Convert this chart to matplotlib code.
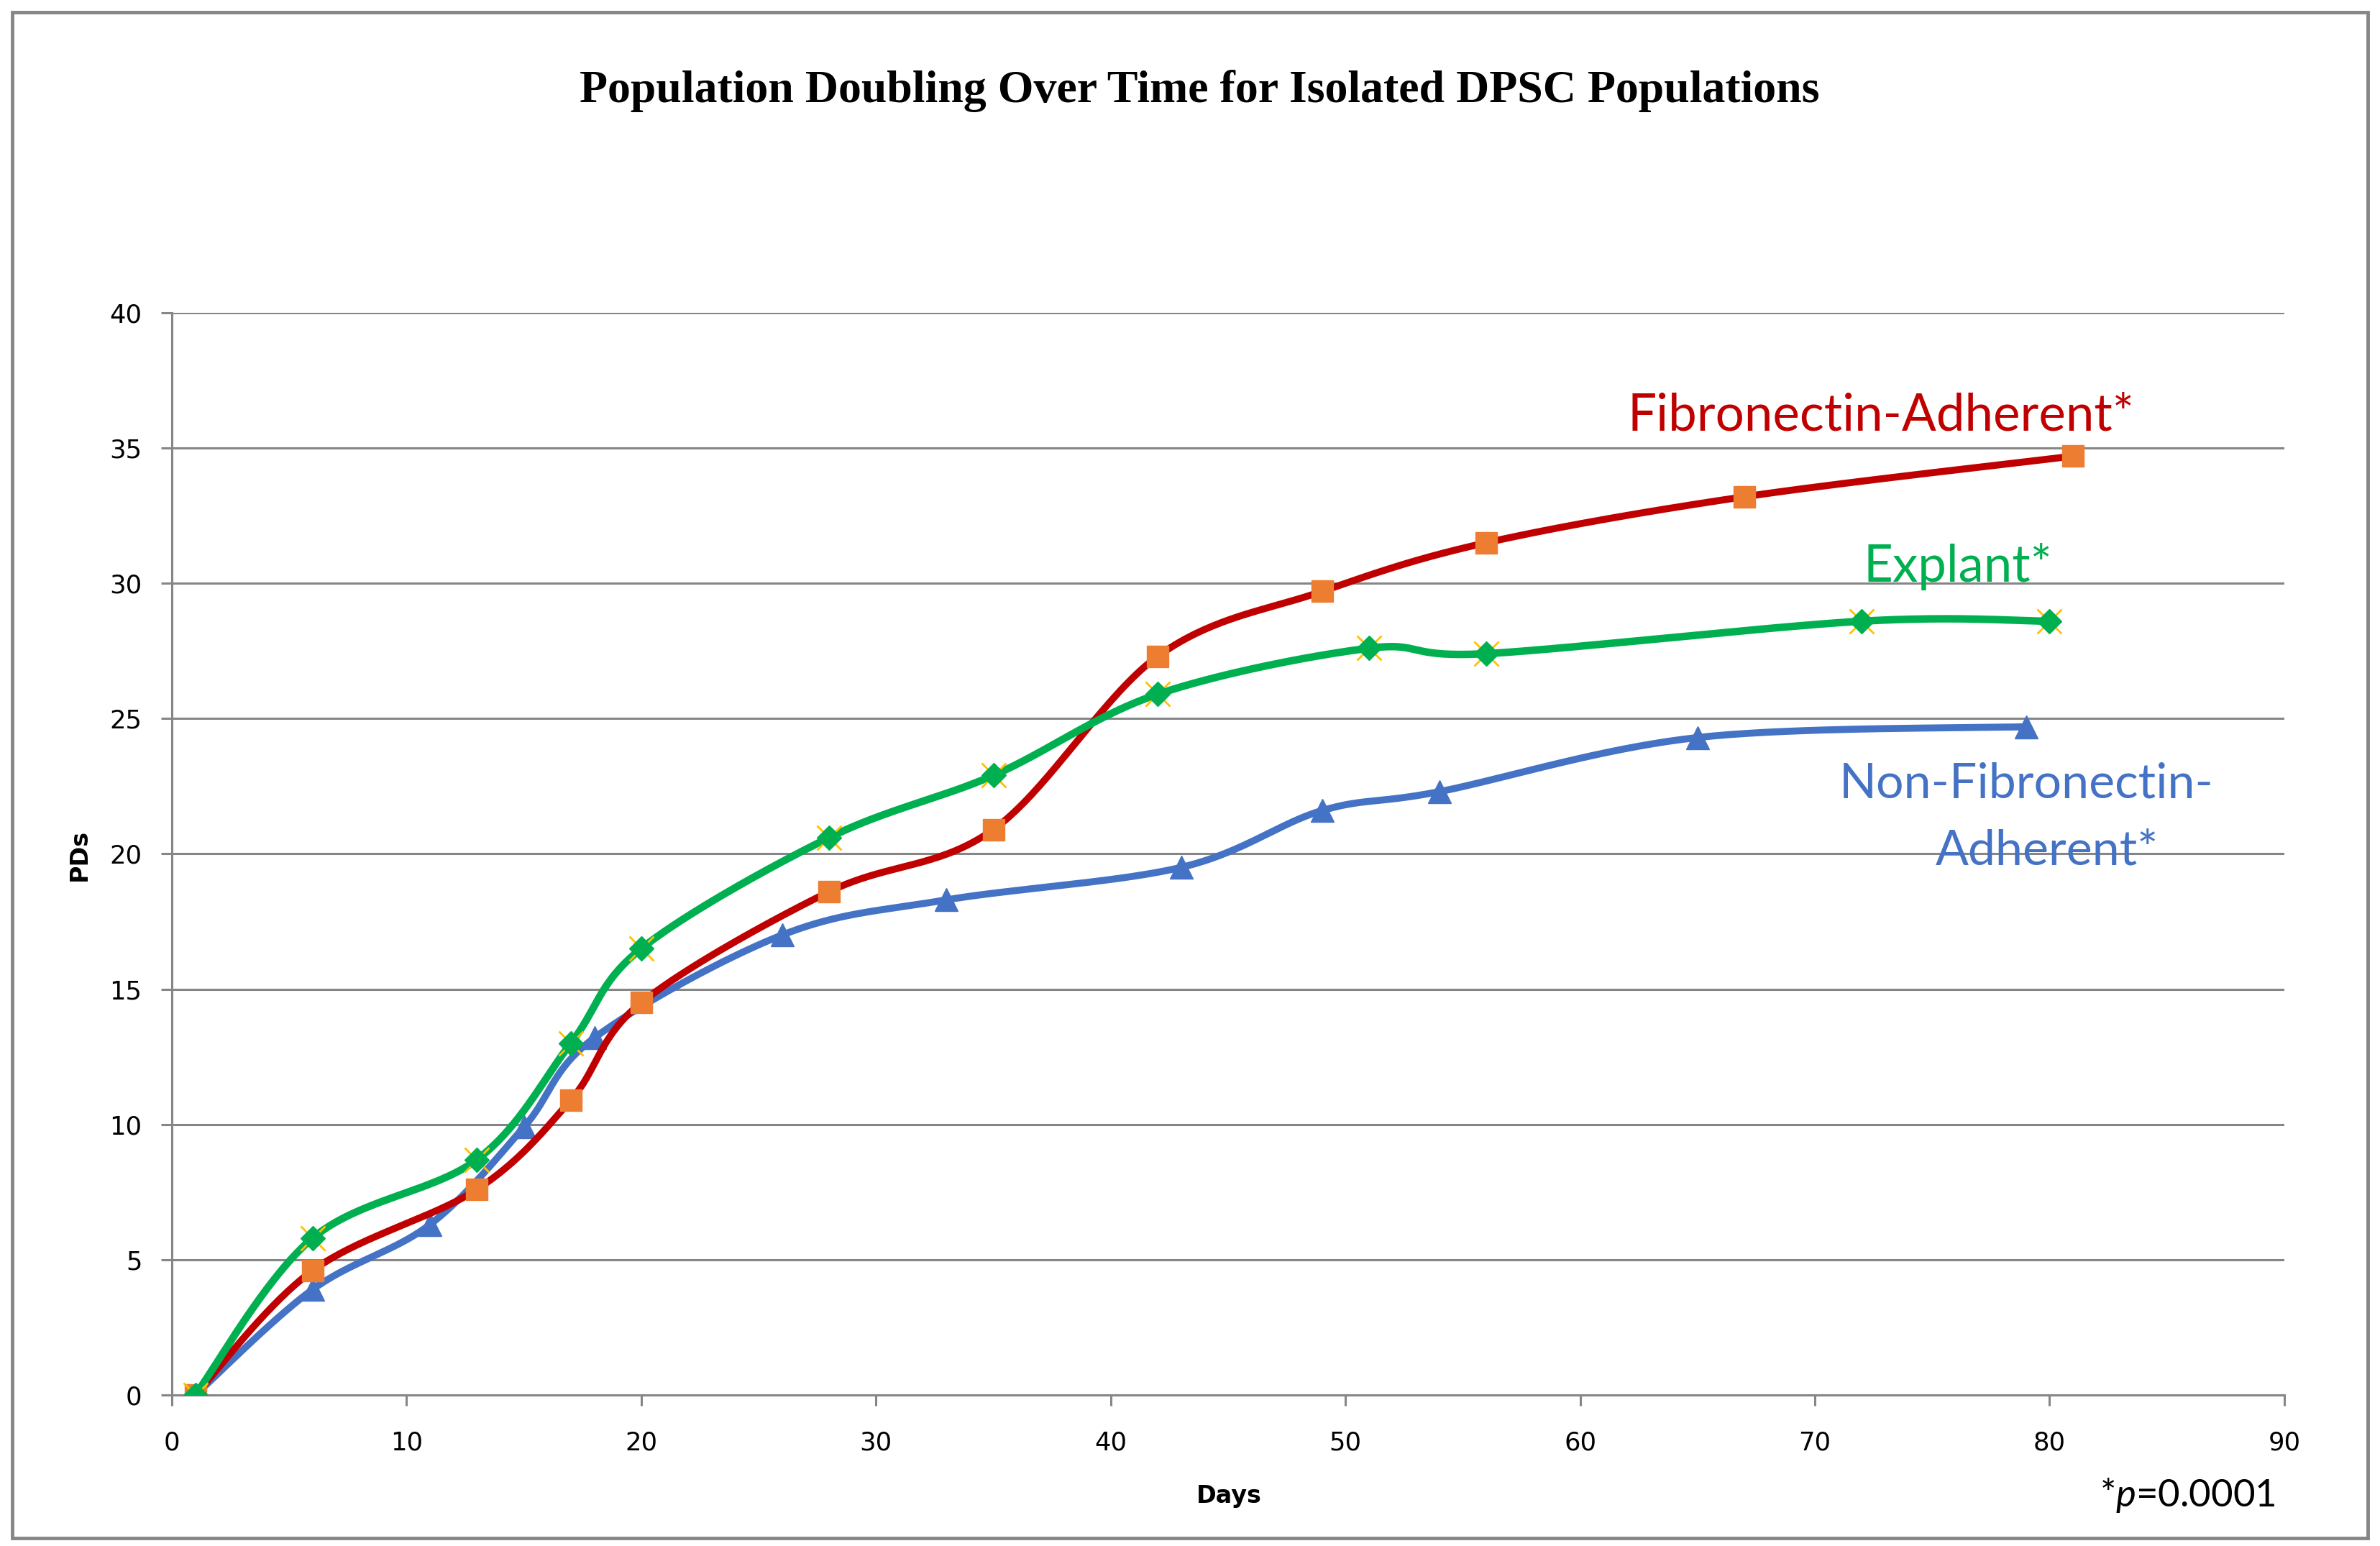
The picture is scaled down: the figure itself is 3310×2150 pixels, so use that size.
import numpy as np
import matplotlib
matplotlib.use("Agg")
import matplotlib.pyplot as plt
from matplotlib.patches import Rectangle

plt.rcParams["mathtext.fontset"] = "custom"
plt.rcParams["mathtext.rm"] = "Lato"
plt.rcParams["mathtext.it"] = "Lato:italic"

# data
fib_days = [1, 6, 13, 17, 20, 28, 35, 42, 49, 56, 67, 81]
fib_pd = [0, 4.6, 7.6, 10.9, 14.5, 18.6, 20.9, 27.3, 29.7, 31.5, 33.2, 34.7]

exp_days = [1, 6, 13, 17, 20, 28, 35, 42, 51, 56, 72, 80]
exp_pd = [0, 5.8, 8.7, 13.0, 16.5, 20.6, 22.9, 25.9, 27.6, 27.4, 28.6, 28.6]

non_days = [1, 6, 11, 15, 18, 26, 33, 43, 49, 54, 65, 79]
non_pd = [0, 3.9, 6.3, 9.9, 13.2, 17.0, 18.3, 19.5, 21.6, 22.3, 24.3, 24.7]

x_ticks = list(range(0, 91, 10))
y_ticks = list(range(0, 41, 5))

title = "Population Doubling Over Time for Isolated DPSC Populations"

RED = "#C00000"
ORANGE = "#ED7D31"
GREEN = "#00B050"
YELLOW = "#FFC000"
BLUE = "#4472C4"
GRID = "#868686"


def smooth(xs, ys, sx, sy, n=40):
    # Excel-like smoothed line: cubic bezier with catmull-rom style control points
    p = np.column_stack([np.array(xs) * sx, np.array(ys) * sy]).astype(float)
    pts = np.vstack([p[0], p, p[-1]])
    out = []
    t = np.linspace(0, 1, n)[:, None]
    for i in range(1, len(pts) - 2):
        p0 = pts[i]
        p3 = pts[i + 1]
        p1 = p0 + (pts[i + 1] - pts[i - 1]) / 6.0
        p2 = p3 - (pts[i + 2] - pts[i]) / 6.0
        seg = (1 - t) ** 3 * p0 + 3 * (1 - t) ** 2 * t * p1 + 3 * (1 - t) * t ** 2 * p2 + t ** 3 * p3
        out.append(seg if i == 1 else seg[1:])
    out = np.vstack(out)
    return out[:, 0] / sx, out[:, 1] / sy


fig = plt.figure(figsize=(33.1, 21.5), dpi=100)
ax = fig.add_axes([0.0722, 0.0977, 0.8876, 0.7])

ax.set_xlim(0, 90)
ax.set_ylim(0, 40)
sx = 2938 / 90.0
sy = 1505 / 40.0

for y in y_ticks:
    ax.axhline(y, color=GRID, lw=2.2, zorder=1)

xs, ys = smooth(non_days, non_pd, sx, sy)
ax.plot(xs, ys, color=BLUE, lw=7, zorder=3, solid_capstyle="round")
ax.plot(non_days, non_pd, "^", color=BLUE, ms=23, zorder=4)

xs, ys = smooth(fib_days, fib_pd, sx, sy)
ax.plot(xs, ys, color=RED, lw=7, zorder=5, solid_capstyle="round")
ax.plot(fib_days, fib_pd, "s", color=ORANGE, ms=22, zorder=6)

xs, ys = smooth(exp_days, exp_pd, sx, sy)
ax.plot(xs, ys, color=GREEN, lw=7.5, zorder=7, solid_capstyle="round")
ax.plot(exp_days, exp_pd, "x", color=YELLOW, ms=25, mew=2, zorder=8)
ax.plot(exp_days, exp_pd, "D", color=GREEN, ms=17, zorder=9)

for s in ["top", "right"]:
    ax.spines[s].set_visible(False)
for s in ["left", "bottom"]:
    ax.spines[s].set_color(GRID)
    ax.spines[s].set_linewidth(2.2)

ax.set_xticks(x_ticks)
ax.set_yticks(y_ticks)
ax.tick_params(axis="both", colors=GRID, length=11, width=2.2, labelcolor="black",
               labelsize=25.5)
ax.tick_params(axis="x", pad=25)
ax.tick_params(axis="y", pad=19)
for lab in ax.get_xticklabels() + ax.get_yticklabels():
    lab.set_family("DejaVu Sans")

fig.text(1709 / 3310, 1 - 2090 / 2150, "Days", fontsize=24, fontweight="bold",
         family="DejaVu Sans", ha="center", va="baseline")
fig.text(110 / 3310, 1 - 1189 / 2150, "PDs", fontsize=24, fontweight="bold",
         family="DejaVu Sans", ha="center", va="center", rotation=90)

fig.text(0.504, 1 - 142 / 2150, title, ha="center", va="baseline", fontsize=46,
         fontweight="bold", family="Liberation Serif")

lab_font = ["Lato", "DejaVu Sans"]
ax.text(72.8, 35.64, "Fibronectin-Adherent*", color=RED, fontsize=51, family=lab_font,
        ha="center", va="baseline")
ax.text(76.1, 30.06, "Explant*", color=GREEN, fontsize=51, family=lab_font,
        ha="center", va="baseline")
ax.text(79.0, 22.08, "Non-Fibronectin-", color=BLUE, fontsize=49, family=lab_font,
        ha="center", va="baseline")
ax.text(79.9, 19.6, "Adherent*", color=BLUE, fontsize=49, family=lab_font,
        ha="center", va="baseline")

fig.text(0.9562, 1 - 2095 / 2150, r"*$p$=0.0001", fontsize=38, family=lab_font,
         ha="right", va="baseline")

fig.patches.append(Rectangle((0.005, 0.005), 0.99, 0.987, transform=fig.transFigure,
                             fill=False, edgecolor=GRID, lw=3.5))

fig.savefig("out.png", dpi=100)
